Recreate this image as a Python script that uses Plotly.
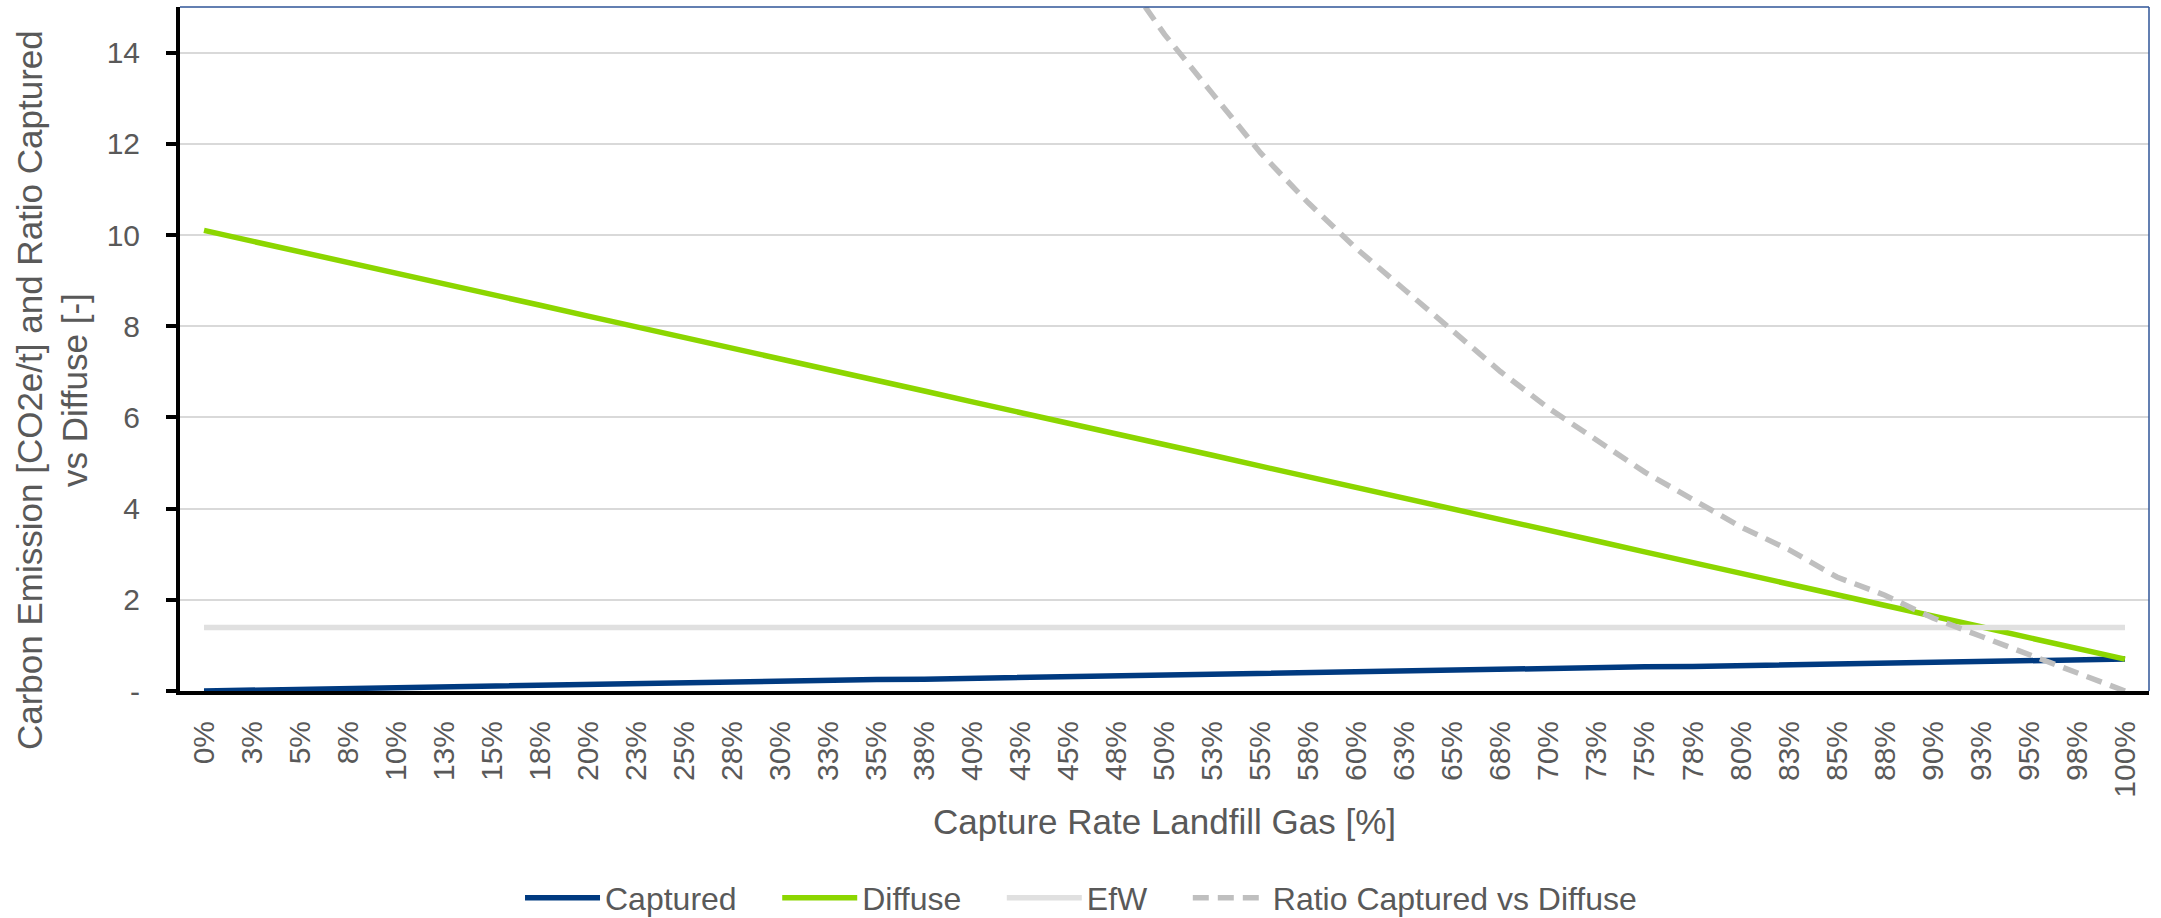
import plotly.graph_objects as go

# Capture-rate categories (labels as displayed, 2.5 % steps rounded)
capture_rate = [
    "0%", "3%", "5%", "8%", "10%", "13%", "15%", "18%", "20%", "23%",
    "25%", "28%", "30%", "33%", "35%", "38%", "40%", "43%", "45%", "48%",
    "50%", "53%", "55%", "58%", "60%", "63%", "65%", "68%", "70%", "73%",
    "75%", "78%", "80%", "83%", "85%", "88%", "90%", "93%", "95%", "98%",
    "100%",
]

# Carbon emission of captured landfill gas [CO2e/t]
captured = [
    0.00, 0.02, 0.04, 0.05, 0.07, 0.09, 0.11, 0.12, 0.14, 0.16,
    0.18, 0.19, 0.21, 0.23, 0.25, 0.26, 0.28, 0.30, 0.32, 0.33,
    0.35, 0.37, 0.39, 0.40, 0.42, 0.44, 0.46, 0.47, 0.49, 0.51,
    0.53, 0.54, 0.56, 0.58, 0.60, 0.61, 0.63, 0.65, 0.67, 0.68,
    0.70,
]

# Carbon emission of diffuse landfill gas [CO2e/t]
diffuse = [
    10.10, 9.87, 9.63, 9.40, 9.16, 8.93, 8.69, 8.46, 8.22, 7.99,
    7.75, 7.52, 7.28, 7.05, 6.81, 6.58, 6.34, 6.11, 5.87, 5.64,
    5.40, 5.17, 4.93, 4.70, 4.46, 4.23, 3.99, 3.76, 3.52, 3.29,
    3.05, 2.82, 2.58, 2.35, 2.11, 1.88, 1.64, 1.41, 1.17, 0.94,
    0.70,
]

# Energy-from-Waste reference emission [CO2e/t]
efw = [
    1.39, 1.39, 1.39, 1.39, 1.39, 1.39, 1.39, 1.39, 1.39, 1.39,
    1.39, 1.39, 1.39, 1.39, 1.39, 1.39, 1.39, 1.39, 1.39, 1.39,
    1.39, 1.39, 1.39, 1.39, 1.39, 1.39, 1.39, 1.39, 1.39, 1.39,
    1.39, 1.39, 1.39, 1.39, 1.39, 1.39, 1.39, 1.39, 1.39, 1.39,
    1.39,
]

# Ratio captured vs diffuse [-] (off-scale values at low capture rates omitted)
ratio = [
    None, None, None, None, None, None, None, None, None, None,
    None, None, None, None, None, None, None, None, None, 15.9,
    14.4, 13.1, 11.8, 10.7, 9.7, 8.8, 7.9, 7.0, 6.2, 5.5,
    4.8, 4.2, 3.6, 3.1, 2.5, 2.1, 1.6, 1.2, 0.8, 0.4,
    0.0,
]

y_ticks = [0, 2, 4, 6, 8, 10, 12, 14]
y_tick_text = ["-", "2", "4", "6", "8", "10", "12", "14"]

FONT = "Liberation Sans, Arial, sans-serif"
TEXT_GREY = "#595959"
PAD = "\u00a0" * 4  # extra spacing between legend entries

fig = go.Figure()
fig.add_trace(go.Scatter(x=capture_rate, y=captured, name="Captured" + PAD, mode="lines",
                         line=dict(color="#003A80", width=5.5)))
fig.add_trace(go.Scatter(x=capture_rate, y=diffuse, name="Diffuse" + PAD, mode="lines",
                         line=dict(color="#8CD600", width=5.5)))
fig.add_trace(go.Scatter(x=capture_rate, y=efw, name="EfW" + PAD, mode="lines",
                         line=dict(color="#E0E0E0", width=5.5)))
fig.add_trace(go.Scatter(x=capture_rate, y=ratio, name="Ratio Captured vs Diffuse", mode="lines",
                         line=dict(color="#BFBFBF", width=5.5, dash="16px,9px")))

fig.update_layout(
    width=2161, height=918,
    margin=dict(l=180, r=12, t=7, b=227, autoexpand=False),
    paper_bgcolor="white", plot_bgcolor="white",
    font=dict(family=FONT, color=TEXT_GREY),
    showlegend=True,
    legend=dict(orientation="h", x=0.4576, xanchor="center", y=-0.3026, yanchor="middle",
                font=dict(size=32, color=TEXT_GREY), itemwidth=75,
                bgcolor="rgba(0,0,0,0)"),
    xaxis=dict(type="category", range=[-0.5, 40.5], showgrid=False, zeroline=False,
               showline=True, linecolor="black", linewidth=4, automargin=False,
               ticks="", tickangle=-90, tickfont=dict(size=30, color=TEXT_GREY),
               ticklabelstandoff=14),
    yaxis=dict(range=[0, 15], tickvals=y_ticks, ticktext=y_tick_text,
               showgrid=True, gridcolor="#D9D9D9", gridwidth=1.5, zeroline=False,
               showline=True, linecolor="black", linewidth=4, automargin=False,
               ticks="outside", ticklen=10, tickwidth=4, tickcolor="black",
               tickfont=dict(size=30, color=TEXT_GREY), ticklabelstandoff=20),
    shapes=[
        dict(type="line", xref="x domain", yref="y domain", x0=0, x1=1, y0=1, y1=1,
             line=dict(color="#2F5597", width=1.5)),
        dict(type="line", xref="x domain", yref="y domain", x0=1, x1=1, y0=0, y1=1,
             line=dict(color="#2F5597", width=1.5)),
    ],
    annotations=[
        dict(text="Capture Rate Landfill Gas [%]", xref="paper", yref="paper",
             x=0.5, y=-0.1915, xanchor="center", yanchor="middle", showarrow=False,
             font=dict(size=35, color=TEXT_GREY)),
        dict(text="Carbon Emission [CO2e/t] and Ratio Captured<br>vs Diffuse [-]",
             xref="paper", yref="paper", x=0, y=0.44, xshift=-128,
             xanchor="center", yanchor="middle", textangle=-90, showarrow=False,
             font=dict(size=35, color=TEXT_GREY)),
    ],
)

fig.write_html("out.html")
